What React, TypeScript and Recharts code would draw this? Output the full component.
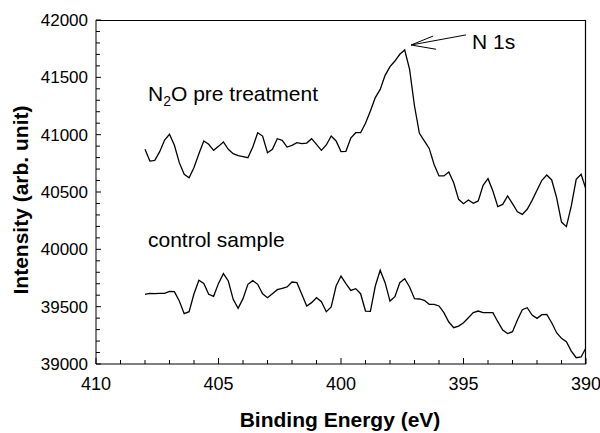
import React from "react";
import { LineChart, Line, XAxis, YAxis, ReferenceLine } from "recharts";

const energy = [
  408.0, 407.8, 407.6, 407.4, 407.2, 407.0, 406.8, 406.6, 406.4, 406.2,
  406.0, 405.8, 405.6, 405.4, 405.2, 405.0, 404.8, 404.6, 404.4, 404.2,
  404.0, 403.8, 403.6, 403.4, 403.2, 403.0, 402.8, 402.6, 402.4, 402.2,
  402.0, 401.8, 401.6, 401.4, 401.2, 401.0, 400.8, 400.6, 400.4, 400.2,
  400.0, 399.8, 399.6, 399.4, 399.2, 399.0, 398.8, 398.6, 398.4, 398.2,
  398.0, 397.8, 397.6, 397.4, 397.2, 397.0, 396.8, 396.6, 396.4, 396.2,
  396.0, 395.8, 395.6, 395.4, 395.2, 395.0, 394.8, 394.6, 394.4, 394.2,
  394.0, 393.8, 393.6, 393.4, 393.2, 393.0, 392.8, 392.6, 392.4, 392.2,
  392.0, 391.8, 391.6, 391.4, 391.2, 391.0, 390.8, 390.6, 390.4, 390.2,
  390.0,
];

const n2oPre = [
  40872, 40770, 40776, 40852, 40953, 41003, 40907, 40756, 40654, 40625,
  40713, 40834, 40945, 40916, 40863, 40898, 40936, 40872, 40834, 40817,
  40808, 40799, 40892, 41017, 40988, 40843, 40872, 40965, 40951, 40892,
  40907, 40930, 40922, 40927, 40965, 40916, 40863, 40910, 40988, 40945,
  40852, 40855, 40970, 41017, 41017, 41100, 41206, 41323, 41395, 41517,
  41593, 41642, 41701, 41738, 41570, 41250, 41012, 40945, 40880, 40740,
  40640, 40640, 40674, 40581, 40436, 40398, 40430, 40401, 40422, 40558,
  40616, 40509, 40372, 40392, 40465, 40398, 40328, 40305, 40349, 40427,
  40515, 40602, 40648, 40605, 40451, 40238, 40198, 40378, 40610, 40654,
  40523,
];

const control = [
  39608, 39616, 39613, 39616, 39616, 39634, 39631, 39549, 39439, 39456,
  39613, 39730, 39703, 39608, 39590, 39703, 39788, 39724, 39564, 39485,
  39570, 39695, 39727, 39695, 39613, 39578, 39613, 39648, 39660, 39672,
  39715, 39709, 39608, 39506, 39535, 39578, 39544, 39456, 39497, 39680,
  39767, 39701, 39642, 39657, 39613, 39462, 39459, 39680, 39817, 39709,
  39549, 39587, 39709, 39744, 39672, 39570, 39567, 39555, 39520, 39520,
  39506, 39448, 39366, 39317, 39331, 39360, 39404, 39448, 39462, 39448,
  39448, 39448, 39369, 39296, 39265, 39282, 39384, 39474, 39491, 39427,
  39398, 39430, 39433, 39360, 39273, 39224, 39195, 39113, 39055, 39061,
  39142,
];

const xTicks = [390, 391, 392, 393, 394, 395, 396, 397, 398, 399, 400, 401, 402, 403, 404, 405, 406, 407, 408, 409, 410];
const xLabelTicks = [390, 395, 400, 405, 410];
const yTicks = [
  39000, 39100, 39200, 39300, 39400, 39500, 39600, 39700, 39800, 39900,
  40000, 40100, 40200, 40300, 40400, 40500, 40600, 40700, 40800, 40900,
  41000, 41100, 41200, 41300, 41400, 41500, 41600, 41700, 41800, 41900, 42000,
];
const yLabelTicks = [39000, 39500, 40000, 40500, 41000, 41500, 42000];

const data = energy.map((e, i) => ({ e, n2o: n2oPre[i], ctrl: control[i] }));

const FONT = "Arial, 'Liberation Sans', Helvetica, sans-serif";

const W = 600;
const H = 433;
const M = { top: 20, right: 14, left: 0, bottom: 0 };
const Y_AXIS_W = 96;
const X_AXIS_H = 69;
const PLOT_L = M.left + Y_AXIS_W;
const PLOT_R = W - M.right;
const PLOT_T = M.top;
const PLOT_B = H - M.bottom - X_AXIS_H;

const XTick = (props: any) => {
  const { x, y, payload } = props;
  const major = xLabelTicks.includes(payload.value);
  return (
    <g>
      <line x1={x} x2={x} y1={y} y2={y - (major ? 6 : 4)} stroke="#000" strokeWidth={1} />
      {major && (
        <text x={x} y={y + 26} textAnchor="middle" fontSize={18} fontFamily={FONT} fill="#000">
          {payload.value}
        </text>
      )}
    </g>
  );
};

const YTick = (props: any) => {
  const { x, y, payload } = props;
  const major = yLabelTicks.includes(payload.value);
  return (
    <g>
      <line x1={x} x2={x + (major ? 5 : 4)} y1={y} y2={y} stroke="#000" strokeWidth={1} />
      {major && (
        <text x={x - 8} y={y} dy="0.35em" textAnchor="end" fontSize={17} fontFamily={FONT} fill="#000">
          {payload.value}
        </text>
      )}
    </g>
  );
};

export default function App() {
  return (
    <div style={{ position: "relative", width: W, height: H }}>
      <style>{"html,body{margin:0;padding:0;overflow:visible}#root{overflow:visible}"}</style>
      <LineChart width={W} height={H} data={data} margin={M}>
        <XAxis
          dataKey="e"
          type="number"
          domain={[390, 410]}
          reversed
          ticks={xTicks}
          interval={0}
          tickSize={0}
          tickMargin={0}
          tick={XTick}
          axisLine={{ stroke: "#000" }}
          height={X_AXIS_H}
          allowDataOverflow
        />
        <YAxis
          type="number"
          domain={[39000, 42000]}
          ticks={yTicks}
          interval={0}
          tickSize={0}
          tickMargin={0}
          tick={YTick}
          axisLine={{ stroke: "#000" }}
          width={Y_AXIS_W}
          allowDataOverflow
        />
        <Line dataKey="n2o" stroke="#000" strokeWidth={1.3} dot={false} isAnimationActive={false} />
        <Line dataKey="ctrl" stroke="#000" strokeWidth={1.3} dot={false} isAnimationActive={false} />
        <ReferenceLine segment={[{ x: 397.14, y: 41782 }, { x: 394.9, y: 41870 }]} stroke="#000" strokeWidth={1} />
        <ReferenceLine segment={[{ x: 397.14, y: 41782 }, { x: 396.24, y: 41860 }]} stroke="#000" strokeWidth={1} />
        <ReferenceLine segment={[{ x: 397.14, y: 41782 }, { x: 396.12, y: 41745 }]} stroke="#000" strokeWidth={1} />
      </LineChart>
      <svg
        width={W}
        height={H}
        style={{ position: "absolute", left: 0, top: 0, pointerEvents: "none" }}
      >
        <path
          d={`M${PLOT_L},${PLOT_T + 0.5}H${PLOT_R - 0.5}V${PLOT_B}`}
          fill="none"
          stroke="#000"
          strokeWidth={1.2}
        />
        <text x={148} y={101} fontSize={21} fontFamily={FONT} fill="#000">
          N<tspan fontSize={14} dy={5}>2</tspan>
          <tspan dy={-5}>O pre treatment</tspan>
        </text>
        <text x={148} y={247} fontSize={21} fontFamily={FONT} fill="#000">
          control sample
        </text>
        <text x={472} y={49} fontSize={21} fontFamily={FONT} fill="#000">
          N 1s
        </text>
        <text x={340} y={427} textAnchor="middle" fontSize={21} fontWeight="bold" fontFamily={FONT} fill="#000">
          Binding Energy (eV)
        </text>
        <text
          x={0}
          y={0}
          transform="translate(28,200) rotate(-90)"
          textAnchor="middle"
          fontSize={21}
          fontWeight="bold"
          fontFamily={FONT}
          fill="#000"
        >
          Intensity (arb. unit)
        </text>
      </svg>
    </div>
  );
}
